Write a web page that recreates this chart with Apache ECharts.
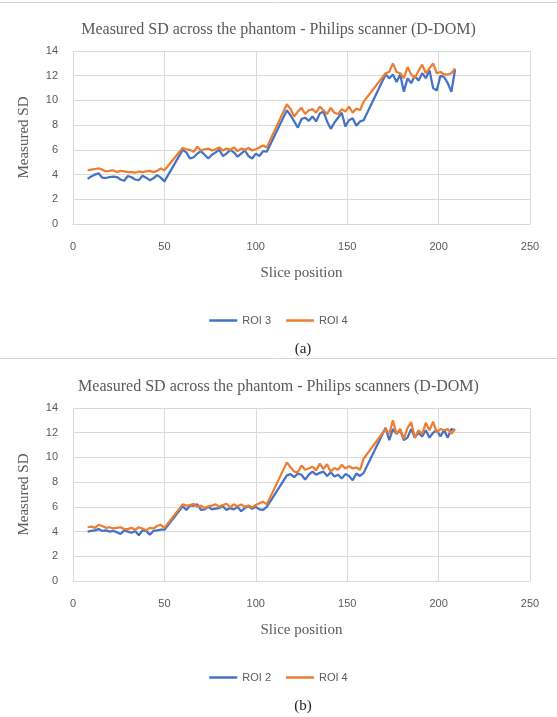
<!DOCTYPE html>
<html>
<head>
<meta charset="utf-8">
<script src="https://cdn.jsdelivr.net/npm/echarts@6/dist/echarts.min.js"></script>
<style>
  html, body { margin: 0; padding: 0; background: #ffffff; }
  #chart { width: 557px; height: 717px; }
</style>
</head>
<body>
<div id="chart"></div>
<script>
// Slice positions sampled in each of the four phantom sections
const slices = [
  8, 10, 12, 14, 16, 18, 20, 22, 24, 26, 28, 30, 32, 34, 36, 38, 40, 42, 44, 46, 48, 50,
  60, 62, 64, 66, 68, 70, 72, 74, 76, 78, 80, 82, 84, 86, 88, 90, 92, 94, 96, 98, 100, 102, 104, 106,
  117, 119, 121, 123, 125, 127, 129, 131, 133, 135, 137, 139, 141, 143, 145, 147, 149, 151, 153, 155, 157, 159,
  171, 173, 175, 177, 179, 181, 183, 185, 187, 189, 191, 193, 195, 197, 199, 201, 203, 205, 207, 209
];

// Panel (a): ROI 3 and ROI 4
const roi3A = [
  3.65, 3.85, 4.0, 4.1, 3.75, 3.72, 3.8, 3.83, 3.8, 3.6, 3.5, 3.88, 3.78, 3.6, 3.55, 3.9, 3.75, 3.55, 3.7, 3.95, 3.75, 3.45,
  6.0, 5.8, 5.3, 5.4, 5.7, 5.9, 5.6, 5.3, 5.6, 5.8, 6.0, 5.5, 5.7, 6.0, 5.8, 5.45, 5.7, 5.95, 5.5, 5.3, 5.7, 5.5, 5.9, 5.85,
  9.2, 8.8, 8.3, 7.8, 8.5, 8.6, 8.35, 8.7, 8.3, 8.95, 9.1, 8.3, 7.7, 8.2, 8.6, 9.0, 7.9, 8.4, 8.55, 7.95, 8.3, 8.4,
  12.1, 11.8, 12.1, 11.5, 12.1, 10.7, 11.8, 11.4, 12.0, 11.6, 12.2, 11.8, 12.45, 11.0, 10.8, 12.0, 11.9, 11.4, 10.7, 12.5
];
const roi4A = [
  4.35, 4.4, 4.45, 4.5, 4.4, 4.25, 4.3, 4.35, 4.2, 4.3, 4.25, 4.2, 4.2, 4.15, 4.25, 4.2, 4.25, 4.3, 4.2, 4.3, 4.5, 4.35,
  6.15, 6.05, 6.0, 5.85, 6.25, 5.95, 6.05, 6.1, 5.95, 6.05, 6.2, 5.95, 6.1, 6.0, 6.2, 5.9, 6.1, 6.0, 6.15, 5.95, 6.05, 6.2, 6.35, 6.2,
  9.7, 9.3, 8.7, 9.1, 9.4, 8.9, 9.2, 9.3, 9.0, 9.5, 9.2, 8.9, 9.4, 9.0, 8.9, 9.3, 9.1, 9.5, 9.0, 9.35, 9.2, 9.9,
  12.2, 12.3, 13.0, 12.3, 12.2, 11.8, 12.7, 12.1, 11.8, 12.4, 12.9, 12.2, 12.6, 13.0, 12.2, 12.3, 12.1, 12.1, 12.2, 12.6
];

// Panel (b): ROI 2 and ROI 4
const roi2B = [
  4.0, 4.05, 4.1, 4.2, 4.05, 4.1, 4.0, 4.05, 3.95, 3.8, 4.1, 4.0, 3.9, 4.05, 3.7, 4.1, 4.05, 3.75, 4.05, 4.1, 4.15, 4.15,
  6.05, 5.75, 6.1, 6.1, 6.2, 5.75, 5.8, 6.0, 5.8, 5.85, 5.9, 6.05, 5.75, 5.9, 5.8, 6.0, 5.65, 5.9, 6.05, 5.85, 6.0, 5.8, 5.75, 6.0,
  8.55, 8.65, 8.4, 8.7, 8.6, 8.2, 8.6, 8.85, 8.6, 8.75, 8.85, 8.5, 8.8, 8.45, 8.6, 8.3, 8.65, 8.5, 8.15, 8.7, 8.5, 8.75,
  12.4, 11.4, 12.3, 11.9, 12.2, 11.4, 11.6, 12.3, 11.6, 12.0, 11.7, 12.2, 11.6, 12.0, 12.2, 11.7, 12.2, 11.6, 12.3, 12.2
];
const roi4B = [
  4.35, 4.4, 4.3, 4.55, 4.45, 4.3, 4.35, 4.25, 4.3, 4.35, 4.2, 4.2, 4.3, 4.15, 4.35, 4.25, 4.1, 4.3, 4.25, 4.45, 4.55, 4.3,
  6.2, 6.1, 6.15, 6.25, 6.0, 6.1, 5.9, 6.05, 6.1, 6.2, 6.0, 6.15, 6.25, 5.95, 6.2, 6.05, 6.2, 6.0, 6.1, 5.95, 6.15, 6.3, 6.4, 6.2,
  9.6, 9.2, 8.85, 8.8, 9.35, 9.0, 9.1, 9.25, 8.95, 9.5, 9.05, 9.45, 8.85, 9.15, 9.0, 9.4, 9.1, 9.3, 9.1, 9.2, 9.0, 9.9,
  12.3, 11.9, 13.0, 11.9, 12.3, 11.5, 12.4, 12.85, 11.6, 12.2, 11.9, 12.8, 12.2, 12.9, 12.0, 12.3, 12.2, 12.3, 11.9, 12.3
];

const xTicks = { min: 0, max: 250, interval: 50 };
const yTicks = { min: 0, max: 14, interval: 2 };

const titles = [
  'Measured SD across the phantom - Philips scanner (D-DOM)',
  'Measured SD across the phantom - Philips scanners (D-DOM)'
];
const captions = ['(a)', '(b)'];
const legendNames = [['ROI 3', 'ROI 4'], ['ROI 2', 'ROI 4']];

const BLUE = '#4472C4';
const ORANGE = '#ED7D31';
const GRID_LINE = '#d9d9d9';
const TEXT = '#595959';
const SERIF = '"Liberation Serif", "DejaVu Serif", serif';
const SANS = '"Liberation Sans", "Open Sans", sans-serif';

const PANEL_OFFSET = 357;

function pairs(values) {
  return slices.map((s, i) => [s, values[i]]);
}

function xAxisFor(gi) {
  return {
    type: 'value', gridIndex: gi,
    min: xTicks.min, max: xTicks.max, interval: xTicks.interval,
    name: 'Slice position', nameLocation: 'middle', nameGap: 42,
    nameTextStyle: { fontFamily: SERIF, fontSize: 15, color: TEXT },
    axisLine: { show: true, lineStyle: { color: GRID_LINE, width: 1 } },
    axisTick: { show: false },
    axisLabel: { color: TEXT, fontFamily: SANS, fontSize: 11, margin: 17 },
    splitLine: { show: true, lineStyle: { color: GRID_LINE, width: 1 } }
  };
}

function yAxisFor(gi) {
  return {
    type: 'value', gridIndex: gi,
    min: yTicks.min, max: yTicks.max, interval: yTicks.interval,
    name: 'Measured SD', nameLocation: 'middle', nameGap: 41, nameRotate: 90,
    nameTextStyle: { fontFamily: SERIF, fontSize: 15, color: TEXT },
    axisLine: { show: false },
    axisTick: { show: false },
    axisLabel: { color: TEXT, fontFamily: SANS, fontSize: 11, margin: 15 },
    splitLine: { show: true, lineStyle: { color: GRID_LINE, width: 1 } }
  };
}

function lineSeries(name, values, color, gi) {
  return {
    type: 'line', name: name, xAxisIndex: gi, yAxisIndex: gi,
    data: pairs(values),
    showSymbol: false, symbol: 'none',
    lineStyle: { color: color, width: 2.25 },
    itemStyle: { color: color },
    emphasis: { disabled: true }
  };
}

const chart = echarts.init(document.getElementById('chart'), null, { renderer: 'canvas' });

const option = {
  animation: false,
  backgroundColor: '#ffffff',
  title: titles.map((t, i) => ({
    text: t, left: 'center', top: 17 + i * PANEL_OFFSET,
    textStyle: { fontFamily: SERIF, fontSize: 16, fontWeight: 'normal', color: TEXT }
  })),
  legend: legendNames.map((names, i) => ({
    data: names, left: 'center', top: 310 + i * PANEL_OFFSET,
    icon: 'rect', itemWidth: 28, itemHeight: 2.5, itemGap: 15,
    textStyle: { fontFamily: SANS, fontSize: 11, color: TEXT },
    selectedMode: false
  })),
  grid: [0, 1].map(i => ({
    left: 73, right: 27, top: 51 + i * PANEL_OFFSET, height: 173,
    containLabel: false
  })),
  xAxis: [xAxisFor(0), xAxisFor(1)],
  yAxis: [yAxisFor(0), yAxisFor(1)],
  series: [
    lineSeries('ROI 3', roi3A, BLUE, 0),
    lineSeries('ROI 4', roi4A, ORANGE, 0),
    lineSeries('ROI 2', roi2B, BLUE, 1),
    lineSeries('ROI 4', roi4B, ORANGE, 1)
  ],
  graphic: [
    { type: 'line', shape: { x1: 0, y1: 2.5, x2: 557, y2: 2.5 }, style: { stroke: '#d4d4d4', lineWidth: 1 } },
    { type: 'line', shape: { x1: 0, y1: 358.5, x2: 557, y2: 358.5 }, style: { stroke: '#d4d4d4', lineWidth: 1 } },
    ...captions.map((c, i) => ({
      type: 'text', x: 303, y: 349 + i * PANEL_OFFSET,
      style: { text: c, fontFamily: SERIF, fontSize: 15, fill: '#222222', align: 'center', verticalAlign: 'middle' }
    }))
  ]
};

chart.setOption(option);
</script>
</body>
</html>
